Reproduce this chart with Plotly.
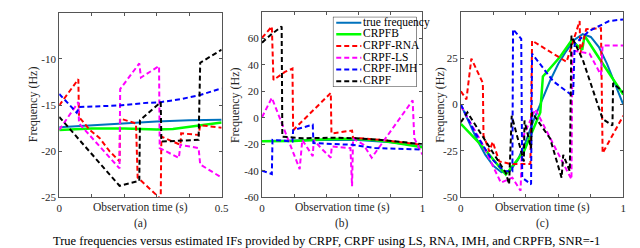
import plotly.graph_objects as go

# ---------------- Panel (a) ----------------
a_true_t = [0, 0.1, 0.2, 0.3, 0.4, 0.5]
a_true_f = [-17.4, -17.2, -16.95, -16.78, -16.65, -16.6]
a_crpfb_t = [0, 0.1, 0.2, 0.3, 0.35, 0.4, 0.5]
a_crpfb_f = [-17.7, -17.55, -17.55, -17.65, -17.6, -17.35, -16.9]
a_rna_t = [0, 0.0588, 0.0609, 0.0943, 0.1247, 0.1552, 0.1856, 0.1876, 0.2363, 0.2414, 0.3124, 0.3144, 0.3732, 0.3753, 0.429, 0.434, 0.5]
a_rna_f = [-15.04, -12.19, -16.28, -17.7, -18.59, -20.02, -21.09, -16.46, -16.99, -22.86, -25.18, -18.42, -19.31, -18.06, -18.24, -17.17, -17.46]
a_ls_t = [0, 0.0588, 0.0609, 0.1856, 0.1876, 0.2465, 0.2515, 0.3073, 0.3093, 0.3682, 0.3732, 0.429, 0.434, 0.5]
a_ls_f = [-17.7, -14.68, -16.99, -21.87, -13.26, -10.48, -12.01, -10.77, -19.66, -20.73, -19.31, -19.66, -21.44, -22.86]
a_imh_t = [0, 0.0538, 0.0609, 0.1856, 0.2566, 0.3124, 0.3783, 0.434, 0.5]
a_imh_f = [-13.79, -15.82, -15.21, -15.04, -14.79, -14.68, -14.32, -13.9, -13.19]
a_crpf_t = [0, 0.1856, 0.2465, 0.2485, 0.3124, 0.3144, 0.429, 0.434, 0.5]
a_crpf_f = [-16.28, -23.75, -23.22, -16.64, -14.68, -18.95, -18.77, -10.41, -8.99]

# ---------------- Panel (b) ----------------
b_true_t = [0, 0.2, 0.4, 0.5, 0.6, 0.7, 0.8, 0.9, 1.0]
b_true_f = [-17.4, -17.0, -16.7, -16.6, -16.8, -17.4, -18.4, -19.9, -21.8]
b_crpfb_t = [0, 0.2, 0.4, 0.5, 0.6, 0.7, 0.8, 0.9, 1.0]
b_crpfb_f = [-17.7, -17.4, -16.2, -15.8, -16.0, -16.8, -18.2, -20.0, -22.2]
b_rna_t = [0, 0.0612, 0.0714, 0.1429, 0.1898, 0.1939, 0.4286, 0.4327, 0.5612, 0.5673, 0.7449, 1.0]
b_rna_f = [60.42, 68.99, 28.6, 34.72, 37.17, -9.33, 18.82, -11.78, -9.57, -14.96, -16.67, -20.34]
b_ls_t = [0, 0.0612, 0.2347, 0.251, 0.3163, 0.3224, 0.3673, 0.4286, 0.4347, 0.551, 0.5612, 0.5673, 0.6327, 0.6837, 0.9388, 0.949, 1.0]
b_ls_f = [0.46, 15.14, -38.7, -16.67, -28.9, -16.67, -22.8, -30.1, -21.6, -22.8, -51.7, -15.45, -20.3, -30.1, 13.2, -15.45, -27.7]
b_imh_t = [0, 0.0612, 0.0653, 0.1898, 0.1939, 0.3163, 0.3204, 0.5612, 0.7041, 1.0]
b_imh_f = [-39.9, -42.4, -16.67, -17.9, -9.33, -5.17, -19.1, -20.34, -22.8, -24.0]
b_crpf_t = [0, 0.0612, 0.1224, 0.1265, 0.2551, 0.4388, 0.5816, 0.7449, 1.0]
b_crpf_f = [56.75, 63.36, 68.99, -14.22, -15.45, -14.96, -15.45, -16.67, -19.85]

# ---------------- Panel (c) ----------------
c_true_t = [0, 0.05, 0.1, 0.15, 0.2, 0.25, 0.3, 0.35, 0.4, 0.45, 0.5, 0.55, 0.6, 0.65, 0.7, 0.75, 0.8, 0.85, 0.9, 0.95, 1.0]
c_true_f = [0, -10, -19, -27, -33, -36.5, -36, -30, -20, -8, 3, 13, 22, 29, 35, 38, 36.5, 31, 22, 11, 0]
c_crpfb_t = [0, 0.1253, 0.2768, 0.3879, 0.4889, 0.5051, 0.6101, 0.6808, 0.7475, 0.7616, 0.8727, 1.0]
c_crpfb_f = [-10.39, -21.83, -37.68, -25.35, -4.23, 15.14, 25.7, 34.51, 29.58, 37.15, 22.18, 5.46]
c_rna_t = [0, 0.0343, 0.0646, 0.1354, 0.1394, 0.1758, 0.196, 0.2364, 0.3071, 0.4283, 0.4384, 0.6505, 0.7313, 0.7354, 0.7717, 0.8626, 0.8727, 1.0]
c_rna_f = [7.22, 2.82, 24.82, 11.62, -16.55, -25.35, -20.07, -30.63, -32.04, -32.04, 34.51, 23.06, 45.07, 27.46, 40.67, 41.2, -26.23, -5.99]
c_ls_t = [0, 0.1253, 0.2465, 0.317, 0.3677, 0.3778, 0.4586, 0.6808, 0.6869, 0.7919, 0.8626, 0.8727, 1.0]
c_ls_f = [-0.7, -20, -42.1, -39.4, -46.5, -18.3, -2.46, -40.3, 29.2, 27.5, 16.0, 31.87, 31.87]
c_imh_t = [0, 0.0848, 0.1859, 0.2667, 0.3172, 0.3212, 0.3717, 0.3778, 0.4323, 0.4384, 0.5697, 0.6909, 0.701, 0.7919, 0.9131, 1.0]
c_imh_f = [0, -14.8, -28.9, -35.9, -35.9, 40.67, 35.4, -39.4, -43.0, 27.46, 12.5, 4.58, 32.75, 39.8, 45.07, 45.95]
c_crpf_t = [0, 0.0404, 0.2768, 0.297, 0.3131, 0.3879, 0.3919, 0.4323, 0.4384, 0.5495, 0.6202, 0.6303, 0.6707, 0.6808, 0.7515, 0.8727, 0.9333, 0.9374, 1.0]
c_crpf_f = [-9.51, -4.23, -36.8, -42.96, -5.99, -30.63, -8.63, -23.59, -4.23, -18.31, -39.44, -27.11, -35.92, 37.15, 23.94, -7.75, -11.27, 11.62, 6.69]

names = ["true frequency", "CRPFB", "CRPF-RNA", "CRPF-LS", "CRPF-IMH", "CRPF"]
colors = ["#0072BD", "#00FF00", "#FF0000", "#FF00FF", "#0000FF", "#000000"]
widths = [2, 2.5, 2, 2, 2, 2]
dashes = ["solid", "solid", "5px,3px", "5px,3px", "5px,3px", "5px,3px"]

panels = [
    [(a_true_t, a_true_f), (a_crpfb_t, a_crpfb_f), (a_rna_t, a_rna_f), (a_ls_t, a_ls_f), (a_imh_t, a_imh_f), (a_crpf_t, a_crpf_f)],
    [(b_true_t, b_true_f), (b_crpfb_t, b_crpfb_f), (b_rna_t, b_rna_f), (b_ls_t, b_ls_f), (b_imh_t, b_imh_f), (b_crpf_t, b_crpf_f)],
    [(c_true_t, c_true_f), (c_crpfb_t, c_crpfb_f), (c_rna_t, c_rna_f), (c_ls_t, c_ls_f), (c_imh_t, c_imh_f), (c_crpf_t, c_crpf_f)],
]

a_xticks = [0, 0.1, 0.2, 0.3, 0.4, 0.5]
a_xlabels = ["0", "", "", "", "", "0.5"]
bc_xticks = [0, 0.2, 0.4, 0.6, 0.8, 1.0]
bc_xlabels = ["0", "", "", "", "", "1"]
a_yticks = [-25, -20, -15, -10, -5]
b_yticks = [-60, -40, -20, 0, 20, 40, 60, 80]
c_yticks = [-50, -25, 0, 25, 50]
sub_labels = ["(a)", "(b)", "(c)"]
caption = "True frequencies versus estimated IFs provided by CRPF, CRPF using LS, RNA, IMH, and CRPFB, SNR=-1"

W, H = 640, 248
FONT = "Times New Roman, Liberation Serif, serif"
TXT = "#262626"

fig = go.Figure()
for p, series in enumerate(panels):
    ax = "" if p == 0 else str(p + 1)
    for i, (t, f) in enumerate(series):
        fig.add_trace(go.Scatter(
            x=t, y=f, mode="lines", name=names[i],
            line=dict(color=colors[i], width=widths[i], dash=dashes[i]),
            xaxis="x" + ax, yaxis="y" + ax, showlegend=False, hoverinfo="skip",
        ))

# Legend drawn inside its own small axes box (compact MATLAB-like entries)
n = len(names)
fig.add_trace(go.Scatter(x=[0, 1, 1, 0, 0], y=[0, 0, n, n, 0], mode="lines", fill="toself",
                         fillcolor="white", line=dict(color="#262626", width=1),
                         xaxis="x4", yaxis="y4", showlegend=False, hoverinfo="skip"))
for i in range(n):
    yy = n - 0.5 - i
    fig.add_trace(go.Scatter(x=[0.04, 0.34], y=[yy, yy], mode="lines",
                             line=dict(color=colors[i], width=widths[i], dash=dashes[i]),
                             xaxis="x4", yaxis="y4", showlegend=False, hoverinfo="skip"))
fig.add_trace(go.Scatter(x=[0.36] * n, y=[n - 0.5 - i for i in range(n)], mode="text",
                         text=names, textposition="middle right",
                         textfont=dict(family=FONT, size=11.5, color="black"),
                         xaxis="x4", yaxis="y4", showlegend=False, hoverinfo="skip", cliponaxis=False))

xdom = [[49 / W, 214 / W], [255 / W, 418 / W], [457 / W, 622 / W]]
ydom = [[1 - 194 / H, 1 - 5 / H], [1 - 194 / H, 1 - 4 / H], [1 - 194 / H, 1 - 4 / H]]
xr = [[0, 0.5], [0, 1], [0, 1]]
yr = [[-25, -5], [-60, 80], [-50, 50]]
xt = [(a_xticks, a_xlabels), (bc_xticks, bc_xlabels), (bc_xticks, bc_xlabels)]
yt = [a_yticks, b_yticks, c_yticks]

common = dict(showgrid=False, zeroline=False, showline=True, linecolor="#555555", linewidth=1,
              mirror="ticks", ticks="inside", ticklen=3, tickcolor="#555555",
              tickfont=dict(family=FONT, size=11, color=TXT))
layout = dict(width=W, height=H, margin=dict(l=0, r=0, t=0, b=0),
              paper_bgcolor="white", plot_bgcolor="rgba(0,0,0,0)", showlegend=False,
              font=dict(family=FONT, size=11, color=TXT))
for p in range(3):
    ax = "" if p == 0 else str(p + 1)
    layout["xaxis" + ax] = dict(common, domain=xdom[p], range=xr[p], anchor="y" + ax,
                                tickvals=xt[p][0], ticktext=xt[p][1])
    layout["yaxis" + ax] = dict(common, domain=ydom[p], range=yr[p], anchor="x" + ax,
                                tickvals=yt[p], ticktext=[str(v) for v in yt[p]])
layout["xaxis4"] = dict(domain=[327 / W, 412 / W], range=[0, 1], anchor="y4", visible=False, fixedrange=True)
layout["yaxis4"] = dict(domain=[1 - 81 / H, 1 - 9 / H], range=[0, n], anchor="x4", visible=False, fixedrange=True)
fig.update_layout(**layout)

ann = []
ytitle_x = [22, 227, 435]
for p in range(3):
    cx = (xdom[p][0] + xdom[p][1]) / 2
    ann.append(dict(text="Observation time (s)", x=cx, y=1 - 204.5 / H, xref="paper", yref="paper",
                    showarrow=False, font=dict(family=FONT, size=11.5, color=TXT), xanchor="center", yanchor="middle"))
    ann.append(dict(text=sub_labels[p], x=cx, y=1 - 220.5 / H, xref="paper", yref="paper",
                    showarrow=False, font=dict(family=FONT, size=11.5, color=TXT), xanchor="center", yanchor="middle"))
    ann.append(dict(text="Frequency (Hz)", x=ytitle_x[p] / W, y=1 - 99 / H, xref="paper", yref="paper",
                    textangle=-90, showarrow=False, font=dict(family=FONT, size=12, color=TXT),
                    xanchor="center", yanchor="middle"))
ann.append(dict(text=caption, x=0.5, y=0, xref="paper", yref="paper", showarrow=False,
                font=dict(family=FONT, size=12.5, color="black"), xanchor="center", yanchor="bottom"))
fig.update_layout(annotations=ann)

fig.write_html("out.html")
